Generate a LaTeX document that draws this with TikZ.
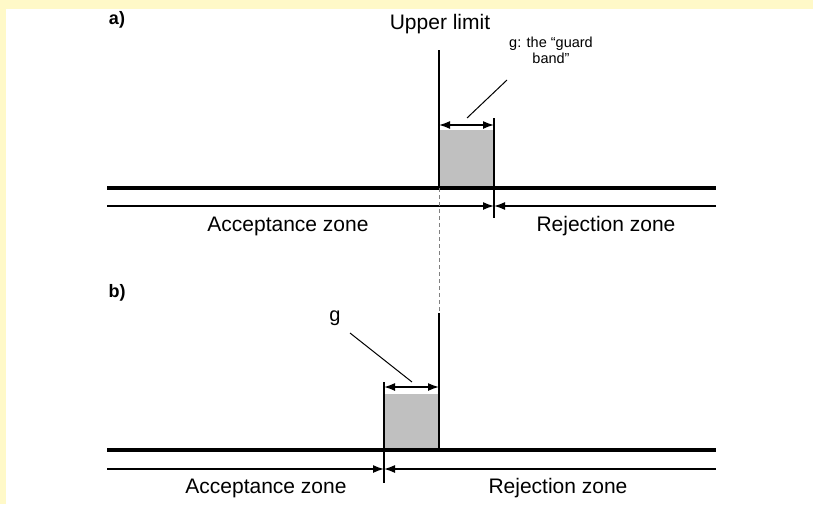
\documentclass[tikz,border=0pt]{standalone}
\usepackage{fontspec}
\setmainfont{Liberation Sans}
\usetikzlibrary{arrows.meta}

\definecolor{framebg}{HTML}{FFF9C8}
\definecolor{bandgray}{HTML}{C0C0C0}

\tikzset{
  zoneline/.style={line width=1.5pt},
  baseline/.style={line width=3.4pt},
  limitline/.style={line width=1.8pt},
  tip/.style={-{Latex[length=11pt,width=8pt]}},
  dimarrow/.style={line width=1.5pt,{Latex[length=11pt,width=8pt]}-{Latex[length=11pt,width=8pt]}},
  leader/.style={line width=1pt},
  zonetext/.style={font=\fontsize{21}{24}\selectfont},
  smalltext/.style={font=\fontsize{14.5}{16}\selectfont,align=center},
  paneltext/.style={font=\fontsize{18}{20}\selectfont\bfseries}
}

\begin{document}
\begin{tikzpicture}[x=1pt,y=-1pt]
	\fill[framebg] (0,0) rectangle (813,504);
	\fill[white] (6,9) rectangle (813,504);
	\useasboundingbox (0,0) rectangle (813,504);

	% panel a
	\node[paneltext] (pa) at (117,20) {a)};
	\node[zonetext] (upper) at (440,24) {Upper limit};
	\coordinate (aLeft) at (107,188);   \coordinate (aRight) at (716,188);
	\coordinate (aLeft2) at (107,206);  \coordinate (aRight2) at (716,206);
	\coordinate (aLimTop) at (439,50);  \coordinate (aLimBot) at (439,188);
	\coordinate (aCut) at (494,206);
	\coordinate (aTickTop) at (494,118); \coordinate (aTickBot) at (494,218);
	\fill[bandgray] (439,130) rectangle (494,188);
	\draw[baseline] (aLeft) -- (aRight);
	\draw[limitline] (aLimTop) -- (aLimBot);
	\draw[zoneline] (aTickTop) -- (aTickBot);
	\draw[zoneline,tip] (aLeft2) -- (aCut);
	\draw[zoneline,tip] (aRight2) -- (aCut);
	\draw[dimarrow] (439,125) -- (494,125);
	\node[smalltext] (guard) at (551,50) {g: the ``guard\\band''};
	\coordinate (aLeadEnd) at (467,118);
	\draw[leader] (507,80) -- (aLeadEnd);
	\node[zonetext] (acca) at (288,226) {Acceptance zone};
	\node[zonetext] (reja) at (606,226) {Rejection zone};

	% dashed continuation of the limit
	\coordinate (bLimTop) at (439,313); \coordinate (bLimBot) at (439,450);
	\draw[gray,line width=0.8pt,dash pattern=on 4pt off 3pt] (aLimBot) -- (bLimTop);

	% panel b
	\node[paneltext] (pb) at (117,293) {b)};
	\coordinate (bLeft) at (107,450);   \coordinate (bRight) at (716,450);
	\coordinate (bLeft2) at (107,469);  \coordinate (bRight2) at (716,469);
	\coordinate (bCut) at (384,469);
	\coordinate (bTickTop) at (384,382); \coordinate (bTickBot) at (384,483);
	\fill[bandgray] (384,394) rectangle (439,450);
	\draw[baseline] (bLeft) -- (bRight);
	\draw[limitline] (bLimTop) -- (bLimBot);
	\draw[zoneline] (bTickTop) -- (bTickBot);
	\draw[zoneline,tip] (bLeft2) -- (bCut);
	\draw[zoneline,tip] (bRight2) -- (bCut);
	\draw[dimarrow] (384,387) -- (439,387);
	\node[font=\fontsize{20}{22}\selectfont] (gb) at (335,318) {g};
	\coordinate (bLeadEnd) at (412,382);
	\draw[leader] (350,333) -- (bLeadEnd);
	\node[zonetext] (accb) at (266,488) {Acceptance zone};
	\node[zonetext] (rejb) at (558,488) {Rejection zone};
\end{tikzpicture}
\end{document}
